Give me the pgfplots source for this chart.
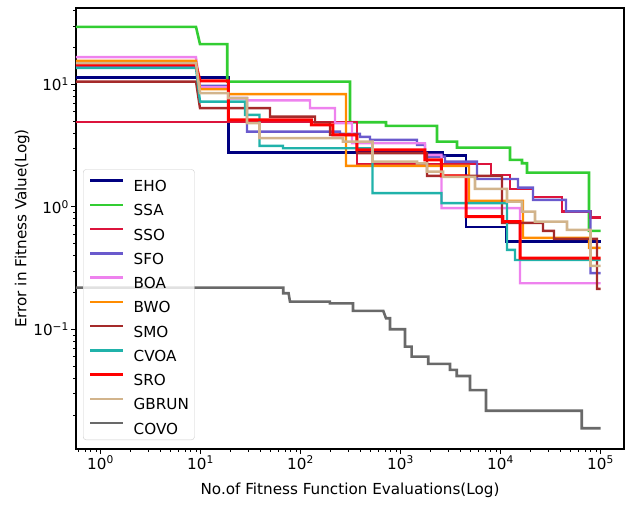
\documentclass[border=0pt]{standalone}
\usepackage{fontspec}
\setmainfont{DejaVu Sans}
\usepackage{pgfplots}
\pgfplotsset{compat=1.18}
\definecolor{cEHO}{HTML}{000080}
\definecolor{cSSA}{HTML}{32CD32}
\definecolor{cSSO}{HTML}{DC143C}
\definecolor{cSFO}{HTML}{6A5ACD}
\definecolor{cBOA}{HTML}{EE82EE}
\definecolor{cBWO}{HTML}{FF8C00}
\definecolor{cSMO}{HTML}{A52A2A}
\definecolor{cCVOA}{HTML}{20B2AA}
\definecolor{cSRO}{HTML}{FF0000}
\definecolor{cGBRUN}{HTML}{D2B48C}
\definecolor{cCOVO}{HTML}{696969}
\newcommand{\fs}{\fontsize{15.2bp}{18bp}\selectfont}
\begin{document}
\begin{tikzpicture}
\begin{axis}[
  at={(0,0)}, anchor=south west,
  scale only axis, width=548bp, height=441bp,
  xmode=log, ymode=log,
  xmin=0.569, xmax=171800, ymin=0.01057, ymax=42,
  xtick={1,10,100,1000,10000,100000},
  xticklabels={10\textsuperscript{0},10\textsuperscript{1},10\textsuperscript{2},10\textsuperscript{3},10\textsuperscript{4},10\textsuperscript{5}},
  ytick={0.1,1,10},
  yticklabels={10\textsuperscript{−1},10\textsuperscript{0},10\textsuperscript{1}},
  minor xtick={0.6,0.7,0.8,0.9,2,3,4,5,6,7,8,9,20,30,40,50,60,70,80,90,200,300,400,500,600,700,800,900,2000,3000,4000,5000,6000,7000,8000,9000,20000,30000,40000,50000,60000,70000,80000,90000},
  minor ytick={0.02,0.03,0.04,0.05,0.06,0.07,0.08,0.09,0.2,0.3,0.4,0.5,0.6,0.7,0.8,0.9,2,3,4,5,6,7,8,9,20,30,40},
  tick align=outside, tick pos=left,
  major tick length=4.9bp, minor tick length=2.8bp,
  every major tick/.style={black, line width=1bp},
  every minor tick/.style={black, line width=0.8bp},
  axis line style={line width=1.1bp, black},
  tick label style={font=\fs},
  xticklabel style={inner sep=2bp},
  yticklabel style={inner sep=2bp},
  xlabel={No.of Fitness Function Evaluations(Log)},
  ylabel={Error in Fitness Value(Log)},
  label style={font=\fs},
  xlabel style={at={(axis description cs:0.5,-0.093)}, anchor=center},
  ylabel style={at={(axis description cs:-0.098,0.5)}, anchor=center},
  legend cell align=left,
  legend image code/.code={\path[draw=none,fill=none] (0bp,0bp) rectangle (33bp,11.1bp); \draw[#1] (0bp,5.55bp) -- (33bp,5.55bp);},
  legend style={at={(axis description cs:0.0128,0.0204)}, anchor=south west,
    draw=black!20, rounded corners=3bp, fill=white, fill opacity=0.8, text opacity=1, draw opacity=1,
    font=\fs, inner xsep=5.5bp, inner ysep=5.6bp, row sep=7.6bp,
    nodes={inner sep=0pt, text height=11.1bp, text depth=0pt},
    /tikz/every odd column/.append style={column sep=9bp}},
]
\addplot[cEHO, line width=2.4bp] coordinates {(0.5,11.36) (19,11.36) (19,2.775) (2661,2.775) (2661,2.63) (4519,2.63) (4519,0.683) (11482,0.683) (11482,0.521) (100000,0.521)};
\addlegendentry{EHO}
\addplot[cSSA, line width=2.6bp] coordinates {(0.5,29.47) (9.016,29.47) (9.886,21.29) (18.5,21.29) (18.5,10.54) (312.6,10.54) (312.6,4.91) (716,4.91) (716,4.58) (2317,4.58) (2317,3.41) (3673,3.41) (3673,3.05) (12445,3.05) (12445,2.42) (16406,2.42) (16406,2.27) (18408,2.27) (18408,1.905) (76736,1.905) (76736,0.637) (100000,0.637)};
\addlegendentry{SSA}
\addplot[cSSO, line width=2.4bp] coordinates {(0.5,4.94) (367.3,4.94) (367.3,2.24) (8035,2.24) (8035,1.825) (12445,1.825) (12445,1.395) (21135,1.395) (21135,1.20) (41210,1.20) (41210,0.915) (79433,0.915) (79433,0.821) (100000,0.821)};
\addlegendentry{SSO}
\addplot[cSFO, line width=2.4bp] coordinates {(0.5,14.16) (9.016,14.16) (9.886,9.72) (19,9.72) (19,7.72) (29.17,7.72) (29.17,4.12) (248.3,4.12) (248.3,3.94) (393.6,3.94) (393.6,3.73) (495.5,3.73) (495.5,3.52) (1462,3.52) (1462,3.21) (1758,3.21) (1758,2.575) (2786,2.575) (2786,2.34) (5821,2.34) (5821,1.69) (14962,1.69) (14962,1.437) (21135,1.437) (21135,1.14) (45186,1.14) (45186,0.919) (79433,0.919) (79433,0.288) (100000,0.288)};
\addlegendentry{SFO}
\addplot[cBOA, line width=2.4bp] coordinates {(0.5,16.67) (9.016,16.67) (9.886,9.45) (19,9.45) (19,7.72) (29.17,7.72) (29.17,7.40) (124.5,7.40) (124.5,6.39) (221.3,6.39) (221.3,4.82) (327.3,4.82) (327.3,3.31) (1758,3.31) (1758,2.66) (2570,2.66) (2570,0.976) (15668,0.976) (15668,0.238) (100000,0.238)};
\addlegendentry{BOA}
\addplot[cBWO, line width=2.4bp] coordinates {(0.5,15.55) (9.016,15.55) (9.886,9.14) (19,9.14) (19,8.32) (285,8.32) (285,2.16) (4842,2.16) (4842,1.12) (16788,1.12) (16788,0.558) (76736,0.558) (76736,0.463) (100000,0.463)};
\addlegendentry{BWO}
\addplot[cSMO, line width=2.4bp] coordinates {(0.5,10.54) (9.016,10.54) (9.886,6.39) (49.5,6.39) (49.5,5.46) (139.6,5.46) (139.6,4.88) (197.2,4.88) (197.2,3.87) (367.3,3.87) (367.3,2.745) (1841,2.745) (1841,1.79) (10350,1.79) (10350,0.740) (26607,0.740) (26607,0.637) (34276,0.637) (34276,0.548) (92257,0.548) (92257,0.214) (100000,0.214)};
\addlegendentry{SMO}
\addplot[cCVOA, line width=2.4bp] coordinates {(0.5,13.64) (9.016,13.64) (9.886,7.24) (27.86,7.24) (27.86,5.64) (38.9,5.64) (38.9,3.15) (66.8,3.15) (66.8,3.01) (524.8,3.01) (524.8,1.294) (2570,1.294) (2570,1.072) (11614,1.072) (11614,0.446) (13964,0.446) (13964,0.369) (100000,0.369)};
\addlegendentry{CVOA}
\addplot[cSRO, line width=3bp] coordinates {(0.5,14.43) (9.016,14.43) (9.886,10.68) (19,10.68) (19,5.13) (128.8,5.13) (128.8,4.67) (211.3,4.67) (211.3,3.87) (367.3,3.87) (367.3,2.92) (1758,2.92) (1758,2.42) (2570,2.42) (2570,1.79) (4519,1.79) (4519,0.833) (10590,0.833) (10590,0.759) (15668,0.759) (15668,0.381) (100000,0.381)};
\addlegendentry{SRO}
\addplot[cGBRUN, line width=2.6bp] coordinates {(0.5,14.90) (9.016,14.90) (9.886,8.48) (19,8.48) (19,7.72) (29.17,7.72) (29.17,4.82) (38.9,4.82) (38.9,3.64) (266,3.64) (266,3.41) (524.8,3.41) (524.8,2.34) (1462,2.34) (1462,2.265) (1841,2.265) (1841,1.94) (2661,1.94) (2661,1.76) (5559,1.76) (5559,1.403) (11614,1.403) (11614,1.105) (16406,1.105) (16406,0.915) (22131,0.915) (22131,0.759) (46238,0.759) (46238,0.649) (79433,0.649) (79433,0.330) (100000,0.330)};
\addlegendentry{GBRUN}
\addplot[cCOVO, line width=2.6bp] coordinates {(0.5,0.2194) (67.3,0.2194) (67.3,0.1975) (76,0.1975) (78.5,0.1686) (197,0.1686) (197,0.163) (335,0.163) (335,0.1416) (673,0.1416) (716,0.1234) (785,0.1234) (785,0.1004) (1109,0.1004) (1109,0.0724) (1294,0.0724) (1294,0.06) (1897,0.06) (1897,0.0523) (3126,0.0523) (3126,0.0467) (3648,0.0467) (3648,0.0417) (4955,0.0417) (4955,0.032) (7161,0.032) (7161,0.0217) (64860,0.0217) (64860,0.0156) (100000,0.0156)};
\addlegendentry{COVO}
\end{axis}
\pgfresetboundingbox
\path (current axis.south west) ++(-76bp,-59bp) coordinate (bbsw);
\path (current axis.north east) ++(1bp,8bp) coordinate (bbne);
\path (bbsw) rectangle (bbne);
\end{tikzpicture}
\end{document}
